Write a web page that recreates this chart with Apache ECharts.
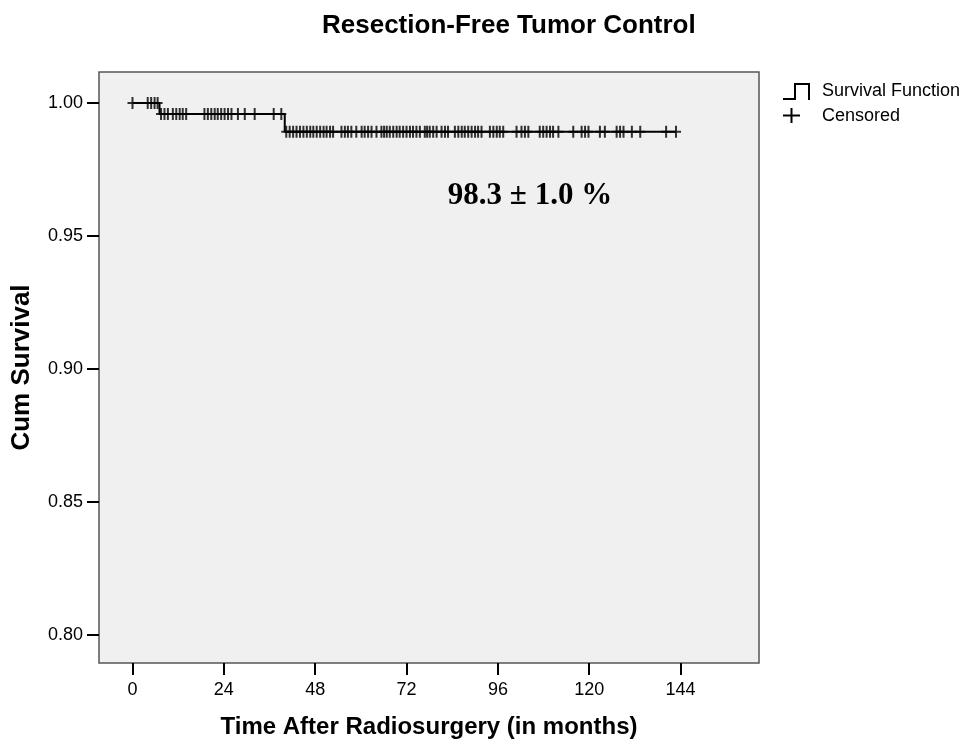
<!DOCTYPE html>
<html>
<head>
<meta charset="utf-8">
<script src="https://cdn.jsdelivr.net/npm/echarts@6/dist/echarts.min.js"></script>
<style>
  html, body { margin: 0; padding: 0; background: #fff; }
  #chart { width: 965px; height: 746px; }
</style>
</head>
<body>
<div id="chart"></div>
<script>
// Kaplan-Meier step: value holds from each time until the next
const stepTimes = [0, 7.1, 40.0, 142.8];
const stepValues = [1.0, 0.9959, 0.9892, 0.9892];

// censored observations (months), grouped by the survival level they sit on
const censoredAt1 = [0.0, 4.0, 4.9, 5.8, 6.6];
const censoredAt2 = [7.5, 8.4, 9.3, 10.6, 11.5, 12.4, 13.2, 14.1,
  18.9, 19.8, 20.7, 21.6, 22.4, 23.3, 24.2, 25.1, 26.0, 27.7, 29.5, 32.1, 37.1, 39.1];
const censoredAt3 = [40.4, 41.3, 42.2, 43.1, 44.0, 44.9, 45.8, 46.7, 47.5, 48.4, 49.3, 50.2, 51.0, 51.9,
  52.7, 54.9, 55.8, 56.6, 57.5, 58.8, 60.2, 61.0, 61.9, 62.8, 64.1, 65.4, 66.1, 66.8, 67.6,
  68.5, 69.4, 70.2, 71.1, 72.0, 72.9, 73.7, 74.6, 75.5, 76.8, 77.4, 78.1, 79.0, 79.9,
  81.2, 82.1, 82.9, 84.7, 85.6, 86.5, 87.3, 88.2, 89.1, 90.0, 90.8, 91.7, 93.9, 94.8,
  95.7, 96.5, 97.4, 100.9, 102.2, 103.1, 104.0, 107.0, 107.9, 108.8, 109.7, 110.5, 111.9,
  115.8, 118.0, 118.9, 119.8, 122.8, 124.1, 127.2, 128.1, 129.0, 131.2, 133.4, 140.2, 142.8];

const xTicks = [0, 24, 48, 72, 96, 120, 144];
const yTicks = [0.80, 0.85, 0.90, 0.95, 1.00];

const annotation = '98.3 \u00b1 1.0 %';

const sansFont = '"Liberation Sans", Arial, sans-serif';
const plusPath = 'path://M4,0H6V5H10V7H6V12H4V7H0V5H4Z';

const survivalData = stepTimes.map((t, i) => [t, stepValues[i]]);
const censoredData = []
  .concat(censoredAt1.map(t => [t, stepValues[0]]))
  .concat(censoredAt2.map(t => [t, stepValues[1]]))
  .concat(censoredAt3.map(t => [t, stepValues[2]]));

const chart = echarts.init(document.getElementById('chart'));

const axisTickStyle = { show: true, inside: false, length: 12, lineStyle: { color: '#000', width: 2 } };

chart.setOption({
  animation: false,
  title: {
    text: 'Resection-Free Tumor Control',
    left: 317,
    top: 8,
    textStyle: { fontFamily: sansFont, fontWeight: 'bold', fontSize: 26, color: '#000' }
  },
  grid: {
    left: 99, right: 206, top: 72, bottom: 83,
    show: true,
    backgroundColor: '#f0f0f0',
    borderColor: '#555',
    borderWidth: 1.5
  },
  xAxis: {
    type: 'value',
    min: -8.8,
    max: 164.6,
    name: 'Time After Radiosurgery (in months)',
    nameLocation: 'middle',
    nameGap: 52,
    nameTextStyle: { fontFamily: sansFont, fontWeight: 'bold', fontSize: 24, color: '#000' },
    axisLine: { show: false, onZero: false },
    axisTick: Object.assign({ customValues: xTicks }, axisTickStyle),
    axisLabel: { customValues: xTicks, margin: 18, fontFamily: sansFont, fontSize: 18, color: '#000' },
    splitLine: { show: false }
  },
  yAxis: {
    type: 'value',
    min: 0.7895,
    max: 1.0117,
    name: 'Cum Survival',
    nameLocation: 'middle',
    nameGap: 64,
    nameTextStyle: { fontFamily: sansFont, fontWeight: 'bold', fontSize: 26, color: '#000' },
    axisLine: { show: false, onZero: false },
    axisTick: Object.assign({ customValues: yTicks }, axisTickStyle),
    axisLabel: {
      customValues: yTicks,
      margin: 16,
      fontFamily: sansFont, fontSize: 18, color: '#000',
      formatter: v => v.toFixed(2)
    },
    splitLine: { show: false }
  },
  series: [
    {
      name: 'Survival Function',
      type: 'line',
      step: 'end',
      data: survivalData,
      showSymbol: false,
      lineStyle: { color: '#000', width: 2 },
      z: 2
    },
    {
      name: 'Censored',
      type: 'scatter',
      data: censoredData,
      symbol: plusPath,
      symbolSize: [10, 12],
      itemStyle: { color: '#000' },
      z: 3
    }
  ],
  graphic: [
    {
      type: 'text',
      x: 530, y: 196,
      style: {
        text: annotation,
        fontFamily: '"Liberation Serif", "Times New Roman", serif',
        fontWeight: 'bold',
        fontSize: 31,
        fill: '#000',
        textAlign: 'center',
        textVerticalAlign: 'middle'
      }
    },
    // legend: step icon + label
    {
      type: 'polyline',
      shape: { points: [[783, 99], [795, 99], [795, 84], [809, 84], [809, 100]] },
      style: { stroke: '#000', lineWidth: 2, fill: null }
    },
    {
      type: 'text', x: 822, y: 91,
      style: { text: 'Survival Function', fontFamily: sansFont, fontSize: 18, fill: '#000', textVerticalAlign: 'middle' }
    },
    {
      type: 'polyline',
      shape: { points: [[783, 115.5], [800, 115.5]] },
      style: { stroke: '#000', lineWidth: 2, fill: null }
    },
    {
      type: 'polyline',
      shape: { points: [[791.5, 108], [791.5, 123]] },
      style: { stroke: '#000', lineWidth: 2, fill: null }
    },
    {
      type: 'text', x: 822, y: 116.5,
      style: { text: 'Censored', fontFamily: sansFont, fontSize: 18, fill: '#000', textVerticalAlign: 'middle' }
    }
  ]
});
</script>
</body>
</html>
